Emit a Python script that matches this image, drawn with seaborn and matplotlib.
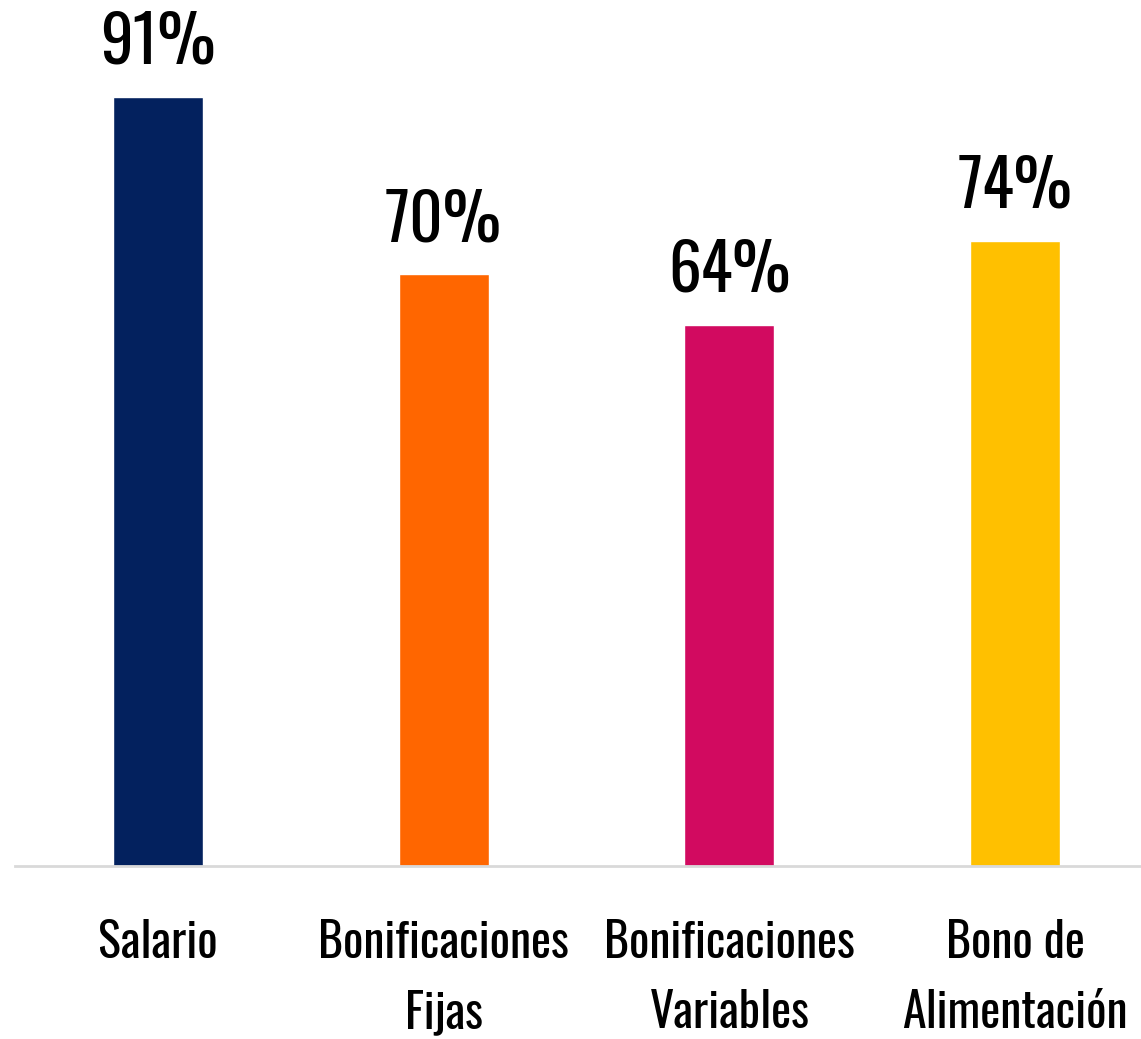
import matplotlib
matplotlib.use("Agg")
import matplotlib.pyplot as plt
from matplotlib import font_manager
import seaborn as sns
import pandas as pd

categorias = ["Salario", "Bonificaciones\nFijas", "Bonificaciones\nVariables", "Bono de\nAlimentación"]
valores = [91, 70, 64, 74]
colores = ["#03215E", "#FF6600", "#D20A60", "#FFC000"]

df = pd.DataFrame({"categoria": categorias, "valor": valores})

sns.set_theme(style="white")

# pick the narrowest family that is installed
installed = {f.name for f in font_manager.fontManager.ttflist}
familia = "DejaVu Sans"
for cand in ["Oswald", "Roboto Condensed", "Liberation Sans Narrow", "DejaVu Sans Condensed", "Roboto"]:
    if cand in installed:
        familia = cand
        break
plt.rcParams["font.family"] = [familia, "DejaVu Sans"]

fig = plt.figure(figsize=(11.41, 10.39), dpi=100)
ax = fig.add_axes([0.013, 0.1665, 0.987, 0.8133])

sns.barplot(data=df, x="categoria", y="valor", hue="categoria", palette=colores,
            width=0.315, legend=False, ax=ax, saturation=1)

ax.set_ylim(0, 100)
ax.set_xlim(-0.5, 3.44)
ax.set_xlabel("")
ax.set_ylabel("")
ax.set_yticks([])
for lado in ["top", "right", "left"]:
    ax.spines[lado].set_visible(False)
ax.spines["bottom"].set_color("#D9D9D9")
ax.spines["bottom"].set_linewidth(2)
ax.tick_params(axis="x", length=0, pad=38, labelsize=34.5, labelcolor="black")
for lbl in ax.get_xticklabels():
    lbl.set_verticalalignment("top")
    lbl.set_linespacing(1.58)

for i, v in enumerate(valores):
    ax.text(i, v + 2.4, f"{v}%", ha="center", va="bottom", fontsize=47, color="black")

fig.savefig("out.png", dpi=100)
